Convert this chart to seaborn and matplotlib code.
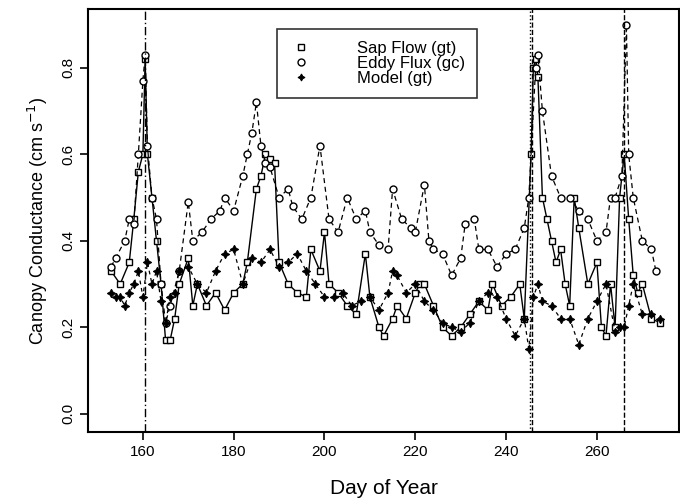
import numpy as np
import pandas as pd
import matplotlib
matplotlib.use("Agg")
import matplotlib.pyplot as plt
import seaborn as sns

# Sap flow (gt)
sap_day = [153, 155, 157, 158, 159, 160, 160.5, 161, 162, 163, 164, 165, 166, 167, 168, 170,
           171, 172, 174, 176, 178, 180, 182, 183, 185, 186, 187, 188, 189, 190, 192, 194,
           196, 197, 199, 200, 201, 203, 205, 207, 209, 210, 212, 213, 215, 216, 218, 220,
           221, 222, 224, 226, 228, 230, 232, 234, 236, 237, 239, 241, 243, 244, 245.5, 246,
           246.5, 247, 248, 249, 250, 251, 252, 253, 254, 255, 256, 258, 260, 261, 262, 263,
           264, 265, 266, 267, 268, 269, 270, 272, 274]
sap_val = [0.33, 0.30, 0.35, 0.45, 0.56, 0.60, 0.82, 0.60, 0.50, 0.40, 0.30, 0.17, 0.17, 0.22, 0.30, 0.36,
           0.25, 0.30, 0.25, 0.28, 0.24, 0.28, 0.30, 0.35, 0.52, 0.55, 0.60, 0.59, 0.58, 0.35, 0.30, 0.28,
           0.27, 0.38, 0.33, 0.42, 0.30, 0.28, 0.25, 0.23, 0.37, 0.27, 0.20, 0.18, 0.22, 0.25, 0.22, 0.28,
           0.30, 0.30, 0.25, 0.20, 0.18, 0.20, 0.23, 0.26, 0.24, 0.30, 0.25, 0.27, 0.30, 0.22, 0.60, 0.80,
           0.82, 0.78, 0.50, 0.45, 0.40, 0.35, 0.38, 0.30, 0.25, 0.50, 0.43, 0.30, 0.35, 0.20, 0.18, 0.30,
           0.20, 0.50, 0.60, 0.45, 0.32, 0.28, 0.30, 0.22, 0.21]

# Eddy flux (gc)
eddy_day = [153, 154, 156, 157, 158, 159, 160, 160.5, 161, 162, 163, 164, 165, 166, 168, 170,
            171, 173, 175, 177, 178, 180, 182, 183, 184, 185, 186, 187, 188, 190, 192, 193,
            195, 197, 199, 201, 203, 205, 207, 209, 210, 212, 214, 215, 217, 219, 220, 222,
            223, 224, 226, 228, 230, 231, 233, 234, 236, 238, 240, 242, 244, 245, 246.5, 247,
            248, 250, 252, 254, 256, 258, 260, 262, 263, 264, 265.5, 266.5, 267, 268, 270, 272, 273]
eddy_val = [0.34, 0.36, 0.40, 0.45, 0.44, 0.60, 0.77, 0.83, 0.62, 0.50, 0.45, 0.30, 0.21, 0.25, 0.33, 0.49,
            0.40, 0.42, 0.45, 0.47, 0.50, 0.47, 0.55, 0.60, 0.65, 0.72, 0.62, 0.58, 0.57, 0.50, 0.52, 0.48,
            0.45, 0.50, 0.62, 0.45, 0.42, 0.50, 0.45, 0.47, 0.42, 0.39, 0.38, 0.52, 0.45, 0.43, 0.42, 0.53,
            0.40, 0.38, 0.37, 0.32, 0.36, 0.44, 0.45, 0.38, 0.38, 0.34, 0.37, 0.38, 0.43, 0.50, 0.80, 0.83,
            0.70, 0.55, 0.50, 0.50, 0.47, 0.45, 0.40, 0.42, 0.50, 0.50, 0.55, 0.90, 0.60, 0.50, 0.40, 0.38, 0.33]

# Model (gt)
model_day = [153, 154, 155, 156, 157, 158, 159, 160, 161, 162, 163, 164, 165, 166, 167, 168,
             170, 172, 174, 176, 178, 180, 182, 184, 186, 188, 190, 192, 194, 196, 198, 200,
             202, 204, 206, 208, 210, 212, 214, 215, 216, 218, 220, 222, 224, 226, 228, 230,
             232, 234, 236, 238, 240, 242, 244, 245, 246, 247, 248, 250, 252, 254, 256, 258,
             260, 262, 264, 265, 266, 267, 268, 270, 272, 274]
model_val = [0.28, 0.27, 0.27, 0.25, 0.28, 0.30, 0.33, 0.27, 0.35, 0.30, 0.33, 0.26, 0.21, 0.27, 0.28, 0.33,
             0.34, 0.30, 0.28, 0.33, 0.37, 0.38, 0.30, 0.36, 0.35, 0.38, 0.34, 0.35, 0.37, 0.33, 0.30, 0.27,
             0.27, 0.28, 0.25, 0.26, 0.27, 0.24, 0.28, 0.33, 0.32, 0.28, 0.30, 0.26, 0.24, 0.21, 0.20, 0.19,
             0.21, 0.26, 0.28, 0.27, 0.22, 0.18, 0.22, 0.15, 0.27, 0.30, 0.26, 0.25, 0.22, 0.22, 0.16, 0.22,
             0.26, 0.30, 0.19, 0.20, 0.20, 0.25, 0.30, 0.23, 0.23, 0.22]

event_days = [160.4, 245.2, 245.8, 266.0]
event_styles = [(0, (6, 2, 1, 2)), ":", "--", "--"]

sns.set_style("ticks")
plt.rcParams['font.family'] = ['Liberation Sans', 'DejaVu Sans']
plt.rcParams['text.color'] = 'black'
plt.rcParams['axes.labelcolor'] = 'black'

fig, ax = plt.subplots(figsize=(6.8, 5.04), dpi=100)
fig.subplots_adjust(left=0.13, right=0.998, top=0.982, bottom=0.143)

sap = pd.DataFrame({"day": sap_day, "g": sap_val})
eddy = pd.DataFrame({"day": eddy_day, "g": eddy_val})
model = pd.DataFrame({"day": model_day, "g": model_val})

sns.lineplot(data=sap, x="day", y="g", ax=ax, color="black", lw=1.0, marker="s",
             markersize=5, markerfacecolor="white", markeredgecolor="black",
             markeredgewidth=1.0, label="Sap Flow (gt)")
sns.lineplot(data=eddy, x="day", y="g", ax=ax, color="black", lw=0.9, ls=(0, (4, 3)),
             marker="o", markersize=5, markerfacecolor="white", markeredgecolor="black",
             markeredgewidth=1.0, label="Eddy Flux (gc)")
sns.lineplot(data=model, x="day", y="g", ax=ax, color="black", lw=0.9, ls=(0, (3, 3)),
             marker=(4, 1, 0), markersize=6, markerfacecolor="black", markeredgecolor="black",
             label="Model (gt)")

for d, st in zip(event_days, event_styles):
    ax.axvline(d, color="black", lw=1.0, ls=st)

ax.set_xlim(148, 278)
ax.set_ylim(-0.042, 0.936)
ax.set_xticks([160, 180, 200, 220, 240, 260])
ax.set_yticks([0.0, 0.2, 0.4, 0.6, 0.8])
ax.set_yticklabels(["0.0", "0.2", "0.4", "0.6", "0.8"], rotation=90, va="center")
ax.tick_params(labelsize=11, length=6, width=1.2, colors="black", labelcolor="black")
ax.set_xlabel("Day of Year", fontsize=15, labelpad=14)
ax.set_ylabel("Canopy Conductance (cm s$^{-1}$)", fontsize=13, labelpad=8)
for s in ax.spines.values():
    s.set_visible(True)
    s.set_linewidth(1.5)
    s.set_color("black")

h, l = ax.get_legend_handles_labels()
leg = ax.legend(h, l, loc="upper left", bbox_to_anchor=(0.32, 0.952), frameon=True,
                fancybox=False, edgecolor="black", fontsize=12, handlelength=1.5,
                handletextpad=2.6, borderpad=0.7, labelspacing=0.0,
                borderaxespad=0.0)
leg.get_frame().set_linewidth(1.2)
for line in leg.get_lines():
    line.set_linestyle("none")
    line.set_markersize(5)

fig.savefig("out.png", dpi=100)
